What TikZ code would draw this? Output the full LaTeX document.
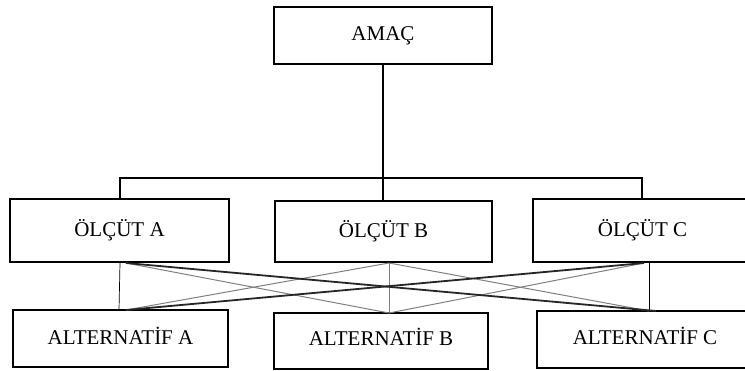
\documentclass[tikz,border=0pt]{standalone}
\usepackage{fontspec}
\setmainfont{Liberation Serif}
\begin{document}
\begin{tikzpicture}[x=1pt,y=-1pt,
  box/.style={draw=black,line width=2.2pt,rectangle,inner sep=0pt,font=\fontsize{21}{24}\selectfont},
  tree/.style={draw=black,line width=2pt},
  thin/.style={draw=black,line width=0.7pt},
  cross/.style={draw=black!85,line width=1.8pt},
  grayl/.style={draw=black!50,line width=1pt}]
\useasboundingbox (0,0) rectangle (745,370);
\node[box,minimum width=218pt,minimum height=57pt] (goal) at (383,35.5) {AMAÇ};
\node[box,minimum width=219pt,minimum height=63pt] (cA) at (119.5,230.5) {ÖLÇÜT A};
\node[box,minimum width=217pt,minimum height=61pt] (cB) at (383.5,231.5) {ÖLÇÜT B};
\node[box,minimum width=219pt,minimum height=63pt] (cC) at (642.5,230.5) {ÖLÇÜT C};
\node[box,minimum width=215pt,minimum height=57pt,text depth=6pt] (aA) at (120.5,338.5) {ALTERNATİF A};
\node[box,minimum width=214pt,minimum height=56pt,text depth=9pt] (aB) at (381,341) {ALTERNATİF B};
\node[box,minimum width=216pt,minimum height=57pt,text depth=7pt] (aC) at (645,339.5) {ALTERNATİF C};
% tree coordinates
\coordinate (j) at (383,178);
\coordinate (jA) at (120,178);
\coordinate (jC) at (642,178);
\draw[tree] (goal.south) -- (j);
\draw[tree] (cA.north -| jA) -- (jA) -- (jC) -- (cC.north -| jC);
\draw[tree] (j) -- (cB.north -| j);
% bottom connection points
\coordinate (bA) at (120,263);
\coordinate (bA2) at (126,263);
\coordinate (bB) at (389,263);
\coordinate (bC) at (649,263);
\coordinate (bC2) at (644,263);
\coordinate (tA) at (119,310);
\coordinate (tA2) at (126,310);
\coordinate (tB) at (389,313);
\coordinate (tC) at (649,311);
\coordinate (tC2) at (656,311);
\draw[thin] (bA) -- (tA);
\draw[grayl] (bB) -- (tB);
\draw[thin] (bC) -- (tC);
\draw[grayl] (bA2) -- (tB);
\draw[grayl] (bB) -- (tA2);
\draw[grayl] (bB) -- (tC);
\draw[grayl] (bC2) -- (tB);
\draw[cross] (bA2) -- (tC2);
\draw[cross] (bC2) -- (tA2);
\end{tikzpicture}
\end{document}
